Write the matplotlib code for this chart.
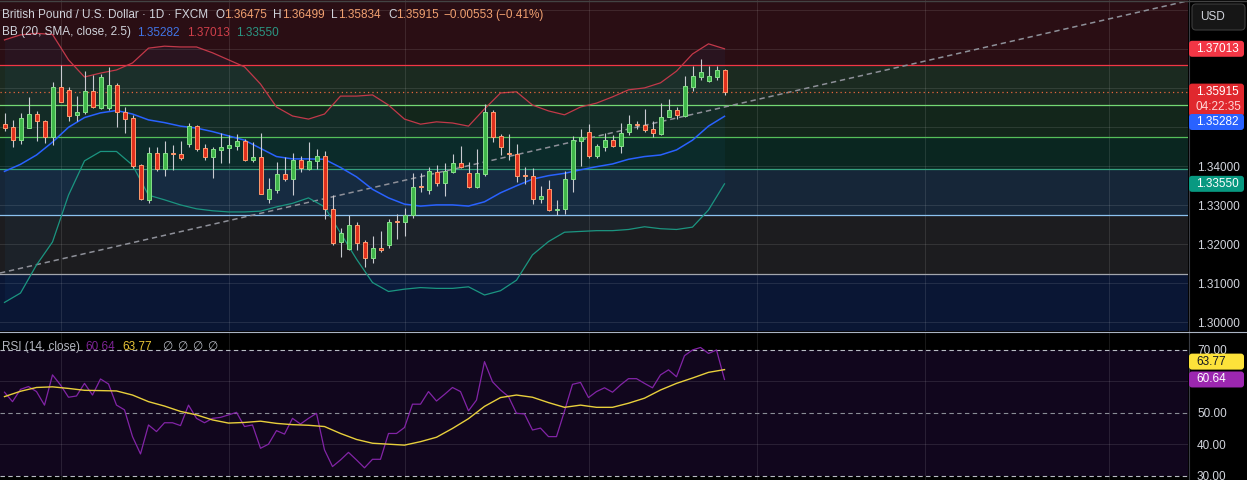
import numpy as np
import matplotlib
matplotlib.use("Agg")
import matplotlib.pyplot as plt
from matplotlib.patches import FancyBboxPatch
from matplotlib.lines import Line2D
from matplotlib.transforms import IdentityTransform

W, H = 1247, 480
plt.rcParams['font.family'] = ['Liberation Sans', 'DejaVu Sans']

# daily candles GBP/USD
opens = [1.3508, 1.3500, 1.3467, 1.3499, 1.3533, 1.3516, 1.3474, 1.3603, 1.3596, 1.3531,
         1.3538, 1.3593, 1.3550, 1.3549, 1.3609, 1.3538, 1.3523, 1.3403, 1.3314, 1.3433,
         1.3394, 1.3433, 1.3431, 1.3457, 1.3503, 1.3446, 1.3425, 1.3443, 1.3448, 1.3452,
         1.3465, 1.3415, 1.3423, 1.3317, 1.3340, 1.3379, 1.3368, 1.3416, 1.3394, 1.3413,
         1.3426, 1.3290, 1.3205, 1.3187, 1.3249, 1.3206, 1.3166, 1.3191, 1.3198, 1.3260,
         1.3258, 1.3274, 1.3349, 1.3340, 1.3386, 1.3358, 1.3385, 1.3408, 1.3382, 1.3348,
         1.3380, 1.3539, 1.3478, 1.3434, 1.3431, 1.3378, 1.3375, 1.3315, 1.3341, 1.3289,
         1.3290, 1.3367, 1.3466, 1.3487, 1.3426, 1.3450, 1.3468, 1.3453, 1.3489, 1.3508,
         1.3507, 1.3495, 1.3483, 1.3527, 1.3544, 1.3529, 1.3604, 1.3630, 1.3618, 1.3630,
         1.36475]
highs = [1.3536, 1.3519, 1.3536, 1.3577, 1.3542, 1.3519, 1.3615, 1.3660, 1.3604, 1.3580,
         1.3644, 1.3634, 1.3636, 1.3654, 1.3613, 1.3551, 1.3532, 1.3406, 1.3449, 1.3450,
         1.3465, 1.3455, 1.3465, 1.3510, 1.3506, 1.3457, 1.3450, 1.3485, 1.3479, 1.3482,
         1.3471, 1.3462, 1.3485, 1.3369, 1.3410, 1.3423, 1.3433, 1.3426, 1.3462, 1.3444,
         1.3438, 1.3326, 1.3241, 1.3274, 1.3256, 1.3211, 1.3221, 1.3234, 1.3266, 1.3278,
         1.3292, 1.3384, 1.3382, 1.3397, 1.3403, 1.3409, 1.3432, 1.3452, 1.3412, 1.3444,
         1.3560, 1.3544, 1.3483, 1.3482, 1.3456, 1.3397, 1.3395, 1.3350, 1.3365, 1.3314,
         1.3388, 1.3478, 1.3496, 1.3509, 1.3457, 1.3486, 1.3480, 1.3510, 1.3532, 1.3516,
         1.3547, 1.3515, 1.3562, 1.3573, 1.3553, 1.3632, 1.3657, 1.3675, 1.3657, 1.3656,
         1.36499]
lows = [1.3491, 1.3450, 1.3456, 1.3497, 1.3466, 1.3459, 1.3455, 1.3564, 1.3515, 1.3515,
        1.3534, 1.3549, 1.3546, 1.3544, 1.3502, 1.3486, 1.3395, 1.3314, 1.3305, 1.3389,
        1.3376, 1.3391, 1.3415, 1.3449, 1.3439, 1.3416, 1.3369, 1.3409, 1.3409, 1.3442,
        1.3414, 1.3412, 1.3329, 1.3307, 1.3332, 1.3363, 1.3326, 1.3386, 1.3391, 1.3392,
        1.3264, 1.3198, 1.3167, 1.3185, 1.3185, 1.3143, 1.3153, 1.3180, 1.3191, 1.3214,
        1.3222, 1.3267, 1.3335, 1.3329, 1.3350, 1.3325, 1.3382, 1.3395, 1.3345, 1.3345,
        1.3374, 1.3462, 1.3429, 1.3415, 1.3361, 1.3355, 1.3303, 1.3305, 1.3286, 1.3275,
        1.3278, 1.3335, 1.3401, 1.3421, 1.3421, 1.3440, 1.3449, 1.3435, 1.3480, 1.3495,
        1.3489, 1.3476, 1.3479, 1.3526, 1.3521, 1.3526, 1.3594, 1.3620, 1.3616, 1.3621,
        1.35834]
closes = [1.3499, 1.3467, 1.3523, 1.3534, 1.3515, 1.3474, 1.3603, 1.3566, 1.3530, 1.3539,
          1.3593, 1.3551, 1.3629, 1.3609, 1.3538, 1.3522, 1.3400, 1.3317, 1.3433, 1.3394,
          1.3433, 1.3432, 1.3420, 1.3503, 1.3445, 1.3425, 1.3444, 1.3450, 1.3454, 1.3465,
          1.3415, 1.3423, 1.3330, 1.3341, 1.3379, 1.3368, 1.3416, 1.3395, 1.3414, 1.3426,
          1.3290, 1.3204, 1.3228, 1.3249, 1.3204, 1.3166, 1.3190, 1.3185, 1.3257, 1.3258,
          1.3274, 1.3347, 1.3347, 1.3387, 1.3358, 1.3387, 1.3408, 1.3397, 1.3348, 1.3382,
          1.3539, 1.3476, 1.3449, 1.3432, 1.3376, 1.3376, 1.3315, 1.3324, 1.3288, 1.3291,
          1.3367, 1.3468, 1.3474, 1.3427, 1.3452, 1.3468, 1.3453, 1.3485, 1.3508, 1.3506,
          1.3493, 1.3485, 1.3526, 1.3544, 1.3531, 1.3606, 1.3632, 1.3642, 1.3632, 1.36468,
          1.35915]

# Bollinger bands, read every second bar
band_bars = list(range(0, 91, 2))
bb_upper = [1.3724, 1.3737, 1.3741, 1.3738, 1.3673, 1.3629, 1.3639, 1.3647, 1.3665, 1.3703,
            1.3708, 1.3706, 1.3706, 1.3691, 1.3673, 1.3655, 1.3611, 1.3552, 1.3529, 1.3521,
            1.3534, 1.3580, 1.3580, 1.3583, 1.3557, 1.3521, 1.3508, 1.3514, 1.3511, 1.3503,
            1.3547, 1.3588, 1.3591, 1.3557, 1.3542, 1.3532, 1.3552, 1.3562, 1.3578, 1.3596,
            1.3601, 1.3614, 1.3644, 1.3688, 1.3714, 1.37013]
bb_mid = [1.3387, 1.3405, 1.3429, 1.3462, 1.3500, 1.3525, 1.3537, 1.3543, 1.3534, 1.3519,
          1.3512, 1.3503, 1.3498, 1.3489, 1.3478, 1.3467, 1.3446, 1.3425, 1.3419, 1.3419,
          1.3418, 1.3397, 1.3373, 1.3341, 1.3319, 1.3303, 1.3298, 1.3301, 1.3301, 1.3298,
          1.3309, 1.3332, 1.3350, 1.3367, 1.3376, 1.3382, 1.3391, 1.3399, 1.3406, 1.3418,
          1.3425, 1.3429, 1.3442, 1.3467, 1.3503, 1.35282]
bb_lower = [1.3051, 1.3075, 1.3147, 1.3206, 1.3326, 1.3414, 1.3438, 1.3438, 1.3403, 1.3326,
            1.3314, 1.3301, 1.3291, 1.3286, 1.3283, 1.3283, 1.3285, 1.3296, 1.3305, 1.3319,
            1.3296, 1.3229, 1.3162, 1.3102, 1.3079, 1.3085, 1.3089, 1.3087, 1.3087, 1.3091,
            1.3070, 1.3081, 1.3108, 1.3173, 1.3207, 1.3231, 1.3233, 1.3235, 1.3235, 1.3238,
            1.3245, 1.3240, 1.3238, 1.3244, 1.3288, 1.33550]

rsi = [56.6, 53.6, 57.5, 58.4, 56.8, 52.5, 62.1, 58.9, 55.0, 55.4,
       59.4, 55.7, 60.8, 59.2, 52.5, 51.0, 42.5, 37.0, 46.2, 44.1,
       46.9, 46.9, 46.0, 52.5, 48.3, 46.9, 48.3, 48.6, 49.4, 50.2,
       45.7, 46.2, 38.8, 40.1, 44.4, 43.3, 48.3, 46.5, 48.3, 49.9,
       38.3, 33.0, 35.1, 37.5, 35.1, 32.6, 35.3, 35.3, 43.5, 43.5,
       45.4, 52.8, 52.8, 56.8, 53.8, 55.9, 58.1, 56.8, 50.7, 54.1,
       66.3, 59.9, 57.3, 55.2, 49.9, 49.7, 44.6, 45.2, 42.5, 42.5,
       50.6, 59.1, 59.7, 54.9, 56.8, 58.0, 56.6, 58.9, 60.9, 60.9,
       59.4, 58.0, 62.1, 63.7, 61.5, 68.2, 70.0, 70.8, 68.9, 70.0,
       60.64]
rsi_ma = [55.2, 56.9, 58.1, 58.3, 57.8, 57.2, 57.1, 57.0, 55.7, 53.6,
          52.2, 50.5, 49.4, 47.8, 46.8, 47.0, 47.4, 46.7, 46.3, 46.1,
          45.7, 43.5, 41.6, 40.4, 40.1, 39.8, 40.9, 42.3, 45.1, 48.2,
          52.1, 54.9, 55.7, 55.0, 53.3, 51.8, 52.5, 51.8, 51.8, 53.1,
          54.7, 57.3, 59.4, 61.1, 62.9, 63.77]

# drawn support / resistance zones
zone_levels = [1.3123, 1.3274, 1.3392, 1.3475, 1.3556, 1.3660]
zone_fills = ['#0a1634', '#1c1c1f', '#162638', '#0a2620', '#13261b', '#1b2a20', '#2a0e14']
zone_lines = ['#a3a6ad', '#8cc2f0', '#35a07e', '#55c05a', '#74d874', '#f23645']
trend_pts = [(0, 1.3129), (140, 1.3787)]
month_bars = [7, 28, 50, 73, 94, 115, 138]

price_ticks = [1.30, 1.31, 1.32, 1.33, 1.34, 1.35, 1.36, 1.37, 1.38]
price_labels = ['1.30000', '1.31000', '1.32000', '1.33000', '1.34000', '', '', '', '']
rsi_ticks = [30, 40, 50, 60, 70]
rsi_labels = ['30.00', '40.00', '50.00', '', '70.00']

GREY = '#d1d4dc'
fig = plt.figure(figsize=(W / 100, H / 100), dpi=100, facecolor='black')
ax = fig.add_axes([0, 1 - 331 / H, 1188 / W, 331 / H])
rx = fig.add_axes([0, 0, 1188 / W, 148 / H])
xlim = (-0.5625, (1188 - 4.5) / 8)

# ---- price pane
ylo, yhi = 1.29777, 1.38264
ax.set_xlim(*xlim)
ax.set_ylim(ylo, yhi)
edges = [ylo] + zone_levels + [yhi]
for lo, hi, col in zip(edges[:-1], edges[1:], zone_fills):
    ax.axhspan(lo, hi, color=col, lw=0, zorder=0)
ax.set_axisbelow(True)
ax.set_xticks(month_bars)
ax.set_yticks(price_ticks)
ax.set_yticklabels(price_labels)
ax.grid(True, color='white', alpha=0.1, lw=0.8)
ax.yaxis.tick_right()
ax.tick_params(axis='y', length=0, pad=6.5, labelsize=8.5, labelcolor=GREY)
ax.tick_params(axis='x', length=0, labelbottom=False)
for s in ax.spines.values():
    s.set_visible(False)

ax.fill_between(band_bars, bb_lower, bb_upper, color='#2196f3', alpha=0.05, lw=0, zorder=1)
for lvl, col in zip(zone_levels, zone_lines):
    ax.axhline(lvl, color=col, lw=0.9, zorder=2)
ax.axline(trend_pts[0], trend_pts[1], color='#8e9099', lw=1.1, ls=(0, (3.5, 2.5)), zorder=2.5)
ax.plot(band_bars, bb_upper, color='#c2394a', lw=0.9, zorder=3)
ax.plot(band_bars, bb_mid, color='#2962ff', lw=1.1, zorder=3)
ax.plot(band_bars, bb_lower, color='#1b9580', lw=0.9, zorder=3)
ax.axhline(closes[-1], color='#e8663d', lw=0.9, ls=(0, (1, 2.5)), zorder=3.5)

o = np.array(opens)
c = np.array(closes)
idx = np.arange(len(c))
up = c >= o
ax.vlines(idx, lows, highs, color='#c9cbd1', lw=0.8, zorder=4)
bot = np.minimum(o, c)
hgt = np.maximum(np.abs(c - o), 0.00003)
ax.bar(idx[up], hgt[up], bottom=bot[up], width=0.5, color='#3fb54a',
       edgecolor='#86e08a', lw=0.7, zorder=5)
ax.bar(idx[~up], hgt[~up], bottom=bot[~up], width=0.5, color='#e0301e',
       edgecolor='#ff9a6e', lw=0.7, zorder=5)

# ---- RSI pane
rx.set_xlim(*xlim)
rx.set_ylim(28.73, 75.71)
rx.set_facecolor('black')
rx.axhspan(30, 70, color='#11061d', lw=0, zorder=0)
rx.set_axisbelow(True)
rx.set_xticks(month_bars)
rx.set_yticks(rsi_ticks)
rx.set_yticklabels(rsi_labels)
rx.xaxis.grid(True, color='white', alpha=0.1, lw=0.8)
rx.yaxis.tick_right()
rx.tick_params(axis='y', length=0, pad=6.5, labelsize=8.5, labelcolor=GREY)
rx.tick_params(axis='x', length=0, labelbottom=False)
for lvl in [40, 60]:
    rx.axhline(lvl, color='white', alpha=0.1, lw=0.8, zorder=0.5)
for lvl, col in [(70, '#b8bcc4'), (50, '#8a8d96'), (30, '#b8bcc4')]:
    rx.axhline(lvl, color=col, lw=0.8, ls=(0, (4, 3)), zorder=1)
for s in rx.spines.values():
    s.set_visible(False)
rx.plot(idx, rsi, color='#8224a6', lw=0.9, zorder=3)
rx.plot(band_bars, rsi_ma, color='#e8cf3c', lw=1.0, zorder=4)

# ---- frame lines
fig.add_artist(Line2D([1188.5 / W] * 2, [0, 1], transform=fig.transFigure, color='#3a3d44', lw=0.8))
fig.add_artist(Line2D([0, 1], [1 - 331.5 / H] * 2, transform=fig.transFigure, color='#aab4c3', lw=0.8))
fig.add_artist(Line2D([0, 1], [1 - 0.5 / H] * 2, transform=fig.transFigure, color='#434343', lw=1))


def put(items, ytop):
    for txt, col, xp in items:
        fig.text(xp / W, 1 - ytop / H, txt, color=col, fontsize=8.5, ha='left', va='center')


ORANGE = '#f0a070'
chg = closes[-1] - closes[-2]
pct = chg / closes[-2] * 100
put([("British Pound / U.S. Dollar · 1D · FXCM", GREY, 2),
     ("O", GREY, 216), (f"{opens[-1]:.5f}", ORANGE, 224.5),
     ("H", GREY, 273), (f"{highs[-1]:.5f}", ORANGE, 282),
     ("L", GREY, 331), (f"{lows[-1]:.5f}", ORANGE, 338),
     ("C", GREY, 388), (f"{closes[-1]:.5f}", ORANGE, 396),
     (f"{chg:+.5f}".replace('-', '\u2212'), ORANGE, 443),
     (f"({pct:+.2f}%)".replace('-', '\u2212'), ORANGE, 495)], 15)
put([("BB (20, SMA, close, 2.5)", GREY, 2),
     (f"{bb_mid[-1]:.5f}", '#4174e6', 137),
     (f"{bb_upper[-1]:.5f}", '#cf3f4a', 187),
     (f"{bb_lower[-1]:.5f}", '#2a9683', 236)], 32.5)
put([("RSI (14, close)", '#b2b5be', 2),
     (f"{rsi[-1]:.2f}", '#7b2394', 85),
     (f"{rsi_ma[-1]:.2f}", '#e9c537', 122),
     ("\u2205", '#b2b5be', 162), ("\u2205", '#b2b5be', 177),
     ("\u2205", '#b2b5be', 192), ("\u2205", '#b2b5be', 207)], 347)


def badge(axis, value, label, fc, tc='white', shift=0, h=16):
    y = axis.transData.transform((0, value))[1] - shift
    fig.add_artist(FancyBboxPatch((1189, y - h / 2), 55, h,
                                  boxstyle='round,pad=0,rounding_size=3',
                                  transform=IdentityTransform(), fc=fc, ec='none', zorder=10))
    fig.text(1196 / W, y / H, label, color=tc, fontsize=8.5, ha='left', va='center', zorder=11)
    return y


# USD box
fig.add_artist(FancyBboxPatch((1192, H - 30), 53, 26, boxstyle='round,pad=0,rounding_size=4',
                              transform=IdentityTransform(), fc='#161616', ec='#3c3c3c',
                              lw=0.8, zorder=10))
fig.text(1200 / W, 1 - 17 / H, "USD", color=GREY, fontsize=8.5, ha='left', va='center', zorder=11)

badge(ax, bb_upper[-1], f"{bb_upper[-1]:.5f}", '#f23645')
yc = ax.transData.transform((0, closes[-1]))[1]
fig.add_artist(FancyBboxPatch((1189, yc - 24.5), 55, 32.5, boxstyle='round,pad=0,rounding_size=3',
                              transform=IdentityTransform(), fc='#e0282e', ec='none', zorder=10))
fig.text(1196 / W, yc / H, f"{closes[-1]:.5f}", color='white', fontsize=8.5,
         ha='left', va='center', zorder=11)
fig.text(1196 / W, (yc - 15.5) / H, "04:22:35", color='#ffd6d6', fontsize=8.5,
         ha='left', va='center', zorder=11)
badge(ax, bb_mid[-1], f"{bb_mid[-1]:.5f}", '#2962ff', shift=5.7)
badge(ax, bb_lower[-1], f"{bb_lower[-1]:.5f}", '#089981')
badge(rx, rsi_ma[-1], f"{rsi_ma[-1]:.2f}", '#fde23a', tc='#131722', shift=-8)
badge(rx, rsi[-1], f"{rsi[-1]:.2f}", '#9c27b0')

fig.savefig('out.png', dpi=100, facecolor='black')
